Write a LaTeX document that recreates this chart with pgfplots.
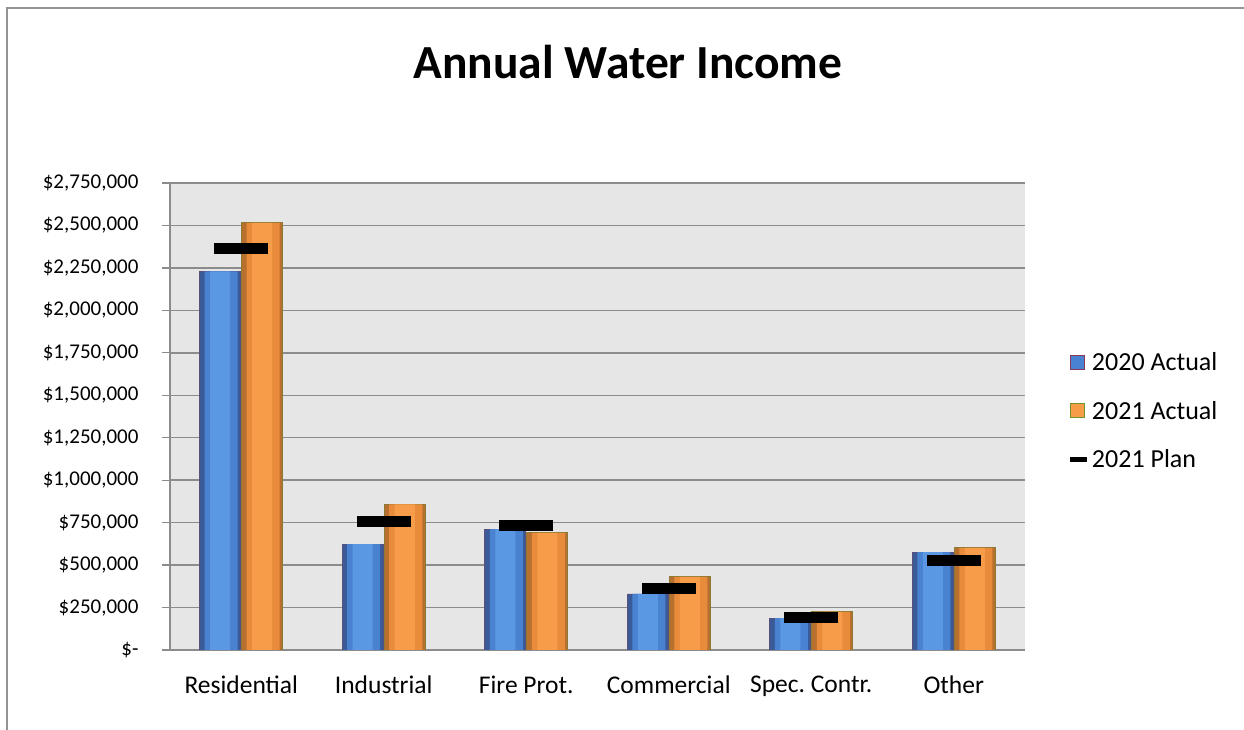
\documentclass[border=0pt]{standalone}
\usepackage{pgfplots}
\usepackage{pgfplotstable}
\pgfplotsset{compat=1.18}
\usepackage{fontspec}
\setmainfont{Carlito}
\frenchspacing

\definecolor{gridgray}{HTML}{8C8C8C}
\definecolor{plotbg}{HTML}{E6E6E6}
\definecolor{blueD}{HTML}{3A5A98}
\definecolor{blueM}{HTML}{4A82D2}
\definecolor{blueL}{HTML}{5B98E4}
\definecolor{blueEdge}{HTML}{5A4F7E}
\definecolor{orgD}{HTML}{B8702E}
\definecolor{orgM}{HTML}{E88C3C}
\definecolor{orgL}{HTML}{F79C48}
\definecolor{orgEdge}{HTML}{8C7A34}

% cat  y2020  y2021  plan
\pgfplotstableread{
x y2020   y2021   plan
0 2230000 2515000 2365000
1 624000  857000  755000
2 712000  690000  732000
3 330000  431000  363000
4 188000  225000  192000
5 577000  602000  528000
}\income

\begin{document}
\begin{tikzpicture}[x=1pt,y=1pt]
\useasboundingbox (-170,-80) rectangle (1074,650);
\draw[gray!85, line width=1.5pt] (-163,-80) -- (-163,642) -- (1074,642);
\node[font=\bfseries\fontsize{47.5}{56}\selectfont] at (458,588) {Annual Water Income};
\begin{axis}[
  at={(0,0)}, anchor=south west,
  width=855pt, height=467pt, scale only axis,
  xmin=-0.5, xmax=5.5, ymin=0, ymax=2750000,
  scaled y ticks=false,
  axis background/.style={fill=plotbg},
  axis x line*=bottom, axis y line*=left,
  axis line style={gridgray, line width=1.2pt, -},
  xtick={0,1,2,3,4,5},
  xticklabels={Residential, Industrial, Fire Prot., Commercial, Spec. Contr., Other},
  xtick style={draw=none},
  minor xtick={-0.5,0.5,1.5,2.5,3.5,4.5,5.5},
  minor x tick style={gridgray, line width=1.2pt},
  minor tick length=7pt,
  ytick={0,250000,500000,750000,1000000,1250000,1500000,1750000,2000000,2250000,2500000,2750000},
  yticklabels={\$-, {\$250,000}, {\$500,000}, {\$750,000}, {\$1,000,000}, {\$1,250,000}, {\$1,500,000}, {\$1,750,000}, {\$2,000,000}, {\$2,250,000}, {\$2,500,000}, {\$2,750,000}},
  y tick style={gridgray, line width=1.2pt},
  major tick length=8pt,
  tick align=outside,
  ymajorgrids=true,
  major grid style={gridgray, line width=1.5pt},
  yticklabel style={font=\fontsize{21}{24}\selectfont, xshift=-20pt},
  xticklabel style={font=\fontsize{25.5}{30}\selectfont, yshift=-14pt},
  legend style={
    at={(1.0465,0.512)}, anchor=west,
    draw=none, fill=none,
    font=\fontsize{26}{30}\selectfont,
    row sep=25pt,
    legend cell align=left,
  },
]
% 2020 actual: dark body, then lighter inner layers for the bevel
\addplot[ybar, bar width=41pt, bar shift=-21pt, fill=blueD, draw=blueEdge, line width=0.8pt,
  legend image code/.code={\draw[fill=blueM, draw=blueEdge!70!red, line width=1.2pt] (0pt,-7pt) rectangle (14pt,7pt);}]
  table[x=x, y=y2020] {\income};
\addlegendentry{2020 Actual}
\addplot[ybar, bar width=33pt, bar shift=-20pt, fill=blueM, draw=none, forget plot]
  table[x=x, y=y2020] {\income};
\addplot[ybar, bar width=20pt, bar shift=-21pt, fill=blueL, draw=none, forget plot]
  table[x=x, y=y2020] {\income};
% 2021 actual
\addplot[ybar, bar width=41pt, bar shift=21pt, fill=orgD, draw=orgEdge, line width=0.8pt,
  legend image code/.code={\draw[fill=orgL, draw=orgEdge!80!green, line width=1.2pt] (0pt,-7pt) rectangle (14pt,7pt);}]
  table[x=x, y=y2021] {\income};
\addlegendentry{2021 Actual}
\addplot[ybar, bar width=33pt, bar shift=22pt, fill=orgM, draw=none, forget plot]
  table[x=x, y=y2021] {\income};
\addplot[ybar, bar width=20pt, bar shift=21pt, fill=orgL, draw=none, forget plot]
  table[x=x, y=y2021] {\income};
% 2021 plan
\addplot[only marks, mark=-, mark size=27pt,
  mark options={black, line width=11pt},
  legend image code/.code={\draw[black, line width=5pt] (0pt,0pt) -- (17pt,0pt);}]
  table[x=x, y=plan] {\income};
\addlegendentry{2021 Plan}
\end{axis}
\end{tikzpicture}
\end{document}
